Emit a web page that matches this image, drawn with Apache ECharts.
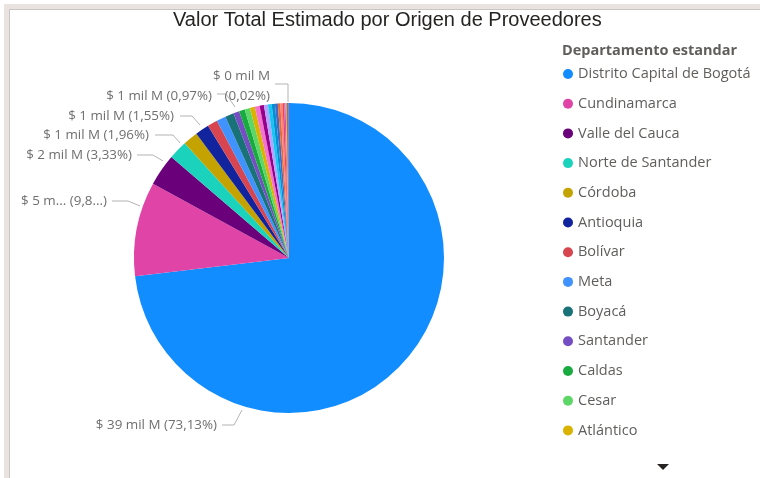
<!DOCTYPE html>
<html>
<head>
<meta charset="utf-8">
<script src="https://cdn.jsdelivr.net/npm/echarts@6/dist/echarts.min.js"></script>
<style>
    html, body { margin: 0; padding: 0; background: #fff; }
    #chart { width: 760px; height: 478px; }
</style>
</head>
<body>
<div id="chart"></div>
<script>
// Departamentos ordenados por valor (mil M de pesos)
const departamentos = [
    'Distrito Capital de Bogotá', 'Cundinamarca', 'Valle del Cauca', 'Norte de Santander',
    'Córdoba', 'Antioquia', 'Bolívar', 'Meta', 'Boyacá', 'Santander', 'Caldas', 'Cesar',
    'Atlántico', 'Risaralda', 'Tolima', 'Huila', 'Magdalena', 'Nariño', 'Quindío', 'Sucre',
    'Casanare', 'Cauca', 'La Guajira', 'Caquetá', 'Putumayo', 'Arauca', 'Chocó', 'Amazonas',
    'San Andrés'
];
const valores = [
    39.051, 5.249, 1.778, 1.047, 0.828, 0.774, 0.561, 0.518, 0.481, 0.331, 0.320, 0.294,
    0.278, 0.267, 0.240, 0.224, 0.203, 0.182, 0.160, 0.139, 0.117, 0.096, 0.075, 0.053,
    0.043, 0.032, 0.027, 0.021, 0.011
];
const colores = [
    '#118DFF', '#E044A7', '#6B007B', '#1BD3BC', '#C4A200', '#12239E', '#D64550', '#4092FF',
    '#197278', '#744EC2', '#1AAB40', '#5BD667', '#D9B300', '#F472D0', '#99008A', '#B5A1FF',
    '#15C6F4', '#0091D5', '#4668C5', '#E66C37', '#FF8080', '#FF4141', '#BE5DC9', '#FFA058',
    '#99700A', '#533285', '#1F9A85', '#EC008C', '#255A91'
];
// rebanadas con etiqueta visible
const conEtiqueta = [0, 1, 2, 3, 4, 7, 28];
// la leyenda solo muestra los primeros (el resto va con scroll)
const enLeyenda = departamentos.slice(0, 13);

// posiciones de las etiquetas (todas a la izquierda, como en Power BI)
const posEtiquetas = {
    0: { x: 217, y: 425, line: [[242, 410], [234, 425], [222, 425]] },
    1: { x: 107, y: 201, line: [[140, 206], [128, 201], [112, 201]] },
    2: { x: 132, y: 155, line: [[163, 161], [153, 155], [137, 155]] },
    3: { x: 149, y: 135, line: [[180, 143], [173, 135], [155, 135]] },
    4: { x: 174, y: 116, line: [[200, 125], [192, 116], [180, 116]] },
    7: { x: 212, y: 96, line: [[235, 107], [226, 94], [217, 94]] },
    28: { x: 270, y: 86, line: [[288, 102], [288, 84], [275, 84]] }
};

function textoEtiqueta(p) {
    const pct = p.percent.toFixed(2).replace('.', ',');
    const monto = '$ ' + Math.round(p.value);
    if (p.dataIndex === 1) return monto + ' m... (' + pct.slice(0, 3) + '...)';
    if (p.dataIndex === valores.length - 1) return monto + ' mil M\n(' + pct + '%)';
    return monto + ' mil M (' + pct + '%)';
}

const chart = echarts.init(document.getElementById('chart'));
chart.setOption({
    animation: false,
    color: colores,
    title: [
        {
            text: 'Valor Total Estimado por Origen de Proveedores',
            left: 168,
            top: 5,
            textStyle: { fontFamily: 'Liberation Sans', fontSize: 20, fontWeight: 'normal', color: '#252423' }
        },
        {
            text: 'Departamento estandar',
            left: 557,
            top: 38,
            textStyle: { fontFamily: 'Open Sans', fontSize: 14.5, fontWeight: 'bold', color: '#605E5C' }
        }
    ],
    legend: {
        orient: 'vertical',
        left: 563,
        top: 66,
        padding: 0,
        data: enLeyenda,
        icon: 'circle',
        itemWidth: 10,
        itemHeight: 10,
        itemGap: 13.7,
        textStyle: { fontFamily: 'Open Sans', fontSize: 14.5, color: '#605E5C', lineHeight: 16 }
    },
    graphic: [
        { type: 'rect', shape: { x: 4, y: 4, width: 756, height: 5 }, style: { fill: '#EBE3E0' } },
        { type: 'rect', shape: { x: 4, y: 4, width: 5, height: 474 }, style: { fill: '#EBE3E0' } },
        { type: 'rect', shape: { x: 9, y: 9, width: 751, height: 1 }, style: { fill: '#C8C6C4' } },
        { type: 'rect', shape: { x: 9, y: 9, width: 1, height: 469 }, style: { fill: '#C8C6C4' } },
        { type: 'polygon', shape: { points: [[657, 464], [669, 464], [663, 470]] }, style: { fill: '#252423' } }
    ],
    series: [
        {
            name: 'Valor Total Estimado',
            type: 'pie',
            center: [289, 258],
            radius: 155,
            startAngle: 90,
            clockwise: true,
            avoidLabelOverlap: false,
            itemStyle: { borderWidth: 0 },
            label: {
                formatter: textoEtiqueta,
                fontFamily: 'Open Sans',
                fontSize: 13.4,
                color: '#6F6F6F',
                lineHeight: 20
            },
            labelLine: { lineStyle: { color: '#B3B3B3', width: 1 } },
            labelLayout: function (p) {
                const pos = posEtiquetas[p.dataIndex];
                if (!pos) return {};
                return { x: pos.x, y: pos.y, align: 'right', verticalAlign: 'middle', labelLinePoints: pos.line };
            },
            emphasis: { disabled: true },
            data: departamentos.map((nombre, i) => ({
                name: nombre,
                value: valores[i],
                label: { show: conEtiqueta.includes(i) },
                labelLine: { show: conEtiqueta.includes(i) }
            }))
        }
    ]
});
</script>
</body>
</html>
